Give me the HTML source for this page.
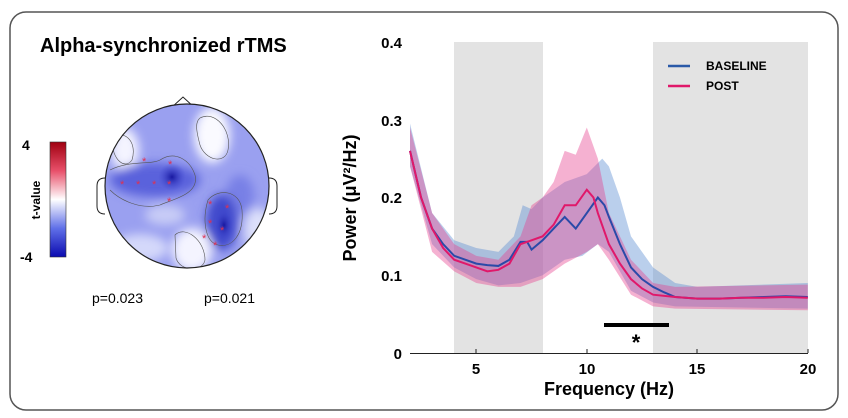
<!DOCTYPE html>
<html><head><meta charset="utf-8"><style>
body{margin:0;background:#fff;}
svg{display:block;font-family:"Liberation Sans",Arial,sans-serif;}
</style></head><body>
<svg id="s" width="848" height="418" viewBox="0 0 848 418">
<defs>
<linearGradient id="cb" x1="0" y1="0" x2="0" y2="1">
<stop offset="0" stop-color="#a00010"/><stop offset="0.25" stop-color="#e8506a"/><stop offset="0.5" stop-color="#ffffff"/><stop offset="0.75" stop-color="#6070e8"/><stop offset="1" stop-color="#0a0ab0"/>
</linearGradient>
<radialGradient id="b1" cx="0.5" cy="0.5" r="0.5"><stop offset="0" stop-color="#1818a0"/><stop offset="1" stop-color="#4048d0" stop-opacity="0"/></radialGradient>
<filter id="bl"><feGaussianBlur stdDeviation="5"/></filter>
<clipPath id="hc"><circle cx="187" cy="186" r="82"/></clipPath>
</defs>
<rect x="10" y="12" width="828" height="398" rx="16" fill="#fff" stroke="#555" stroke-width="1.5"/>
<text x="40" y="52" font-size="20" font-weight="bold">Alpha-synchronized rTMS</text>
<rect x="50" y="142" width="16" height="115" fill="url(#cb)" stroke="#333" stroke-width="0.6"/>
<text x="22" y="150" font-size="14" font-weight="bold">4</text>
<text x="20" y="262" font-size="14" font-weight="bold">-4</text>
<text transform="translate(40,200) rotate(-90)" font-size="12" font-weight="bold" text-anchor="middle">t-value</text>
<polygon points="171,108 183,97 195,108" fill="#fff" stroke="#222" stroke-width="1"/>
<path d="M105,178 q-8,0 -8,8 v20 q0,8 8,8" fill="#fff" stroke="#222" stroke-width="1"/>
<path d="M269,178 q8,0 8,8 v20 q0,8 -8,8" fill="#fff" stroke="#222" stroke-width="1"/>
<g clip-path="url(#hc)">
<rect x="100" y="100" width="180" height="180" fill="#9aa0f0"/>
<g filter="url(#bl)">
<ellipse cx="125" cy="150" rx="14" ry="22" fill="#f4f4ff"/>
<ellipse cx="212" cy="135" rx="18" ry="28" fill="#fafaff"/>
<ellipse cx="192" cy="250" rx="20" ry="22" fill="#f4f4ff"/>
<ellipse cx="140" cy="248" rx="28" ry="14" fill="#d4d8fa"/>
<ellipse cx="258" cy="230" rx="14" ry="22" fill="#dde0fa"/>
<ellipse cx="165" cy="215" rx="20" ry="10" fill="#c8ccf6"/>
<ellipse cx="155" cy="180" rx="45" ry="17" fill="#5a62dc"/>
<ellipse cx="240" cy="195" rx="14" ry="20" fill="#7880e6"/>
<ellipse cx="222" cy="222" rx="16" ry="28" fill="#4048cc"/>
</g>
<ellipse cx="172" cy="177" rx="14" ry="14" fill="url(#b1)"/>
<ellipse cx="224" cy="225" rx="9" ry="15" fill="url(#b1)"/>
<g fill="none" stroke="#555" stroke-width="0.6">
<path d="M110,170 C130,160 150,165 160,160 C175,150 190,160 195,175 C200,195 170,200 160,205 C140,210 120,200 110,190"/>
<path d="M200,118 C215,110 232,130 228,150 C225,165 205,160 200,145 C196,130 195,122 200,118Z"/>
<path d="M208,200 C218,188 240,190 242,210 C244,235 232,248 218,245 C205,242 202,220 208,200Z"/>
<path d="M175,235 C185,225 205,240 205,260 C203,272 180,272 176,258Z"/>
<path d="M112,140 C122,128 138,140 132,160 C125,170 112,160 112,140Z"/>
</g>
</g>
<circle cx="187" cy="186" r="82" fill="none" stroke="#222" stroke-width="1.2"/>
<g fill="#e03050" font-size="11"><text x="120" y="188">*</text><text x="136" y="188">*</text><text x="152" y="188">*</text><text x="167" y="188">*</text><text x="167" y="205">*</text><text x="142" y="165">*</text><text x="168" y="168">*</text><text x="208" y="208">*</text><text x="225" y="212">*</text><text x="208" y="227">*</text><text x="220" y="234">*</text><text x="202" y="242">*</text><text x="213" y="249">*</text></g>
<text x="92" y="303" font-size="14">p=0.023</text>
<text x="204" y="303" font-size="14">p=0.021</text>
<rect x="454" y="42" width="89" height="311" fill="#e3e3e3"/>
<rect x="653" y="42" width="155" height="311" fill="#e3e3e3"/>
<g id="plot"></g>
<line x1="410" y1="353.5" x2="808" y2="353.5" stroke="#222" stroke-width="1"/>
<g stroke="#222"><line x1="476" y1="353" x2="476" y2="349"/><line x1="587" y1="353" x2="587" y2="349"/><line x1="697" y1="353" x2="697" y2="349"/><line x1="808" y1="353" x2="808" y2="349"/></g>
<g font-size="15" font-weight="bold" text-anchor="end"><text x="402" y="48">0.4</text><text x="402" y="126">0.3</text><text x="402" y="203">0.2</text><text x="402" y="281">0.1</text><text x="402" y="359">0</text></g>
<g font-size="15" font-weight="bold" text-anchor="middle"><text x="476" y="374">5</text><text x="587" y="374">10</text><text x="697" y="374">15</text><text x="808" y="374">20</text></g>
<text x="609" y="395" font-size="18" font-weight="bold" text-anchor="middle">Frequency (Hz)</text>
<text transform="translate(356,198) rotate(-90)" font-size="18" font-weight="bold" text-anchor="middle">Power (μV²/Hz)</text>
<line x1="604" y1="325" x2="669" y2="325" stroke="#000" stroke-width="4"/>
<text x="636" y="350" font-size="22" font-weight="bold" text-anchor="middle">*</text>
<line x1="668" y1="66" x2="690" y2="66" stroke="#2a5aa8" stroke-width="2.5"/>
<line x1="668" y1="86" x2="690" y2="86" stroke="#e0186a" stroke-width="2.5"/>
<text x="706" y="70" font-size="12" font-weight="bold">BASELINE</text>
<text x="706" y="90" font-size="12" font-weight="bold">POST</text>
</svg>
<script>
function X(f){return 410+22.1*(f-2);}function Y(p){return 353-777.5*p;}
var B=[[2,.26],[2.5,.2],[3,.16],[3.5,.14],[4,.125],[4.5,.12],[5,.115],[5.5,.113],[6,.112],[6.5,.12],[7,.143],[7.3,.143],[7.5,.133],[8,.145],[8.5,.16],[9,.175],[9.5,.16],[10,.18],[10.5,.2],[10.8,.19],[11,.175],[11.5,.14],[12,.11],[12.5,.095],[13,.085],[13.5,.078],[14,.072],[15,.07],[16,.07],[17,.071],[18,.072],[19,.073],[20,.072]];
var P=[[2,.26],[2.5,.2],[3,.16],[3.5,.135],[4,.12],[4.5,.115],[5,.11],[5.5,.105],[6,.107],[6.5,.115],[7,.14],[7.5,.145],[8,.15],[8.5,.165],[9,.19],[9.5,.19],[10,.21],[10.3,.2],[10.5,.18],[11,.14],[11.5,.115],[12,.095],[12.5,.083],[13,.075],[14,.072],[15,.07],[16,.07],[17,.071],[18,.071],[19,.072],[20,.071]];
var BU=[[2,.295],[3,.18],[4,.145],[5,.135],[6,.13],[6.7,.15],[7.1,.19],[7.5,.185],[8,.2],[9,.22],[10,.23],[10.7,.25],[11,.24],[11.5,.2],[12,.15],[13,.11],[14,.09],[15,.085],[20,.09]];
var BL=[[2,.24],[3,.14],[4,.11],[5,.095],[6,.087],[7,.09],[8,.1],[9,.12],[9.8,.125],[10.5,.14],[11,.13],[12,.08],[13,.065],[14,.06],[20,.057]];
var PU=[[2,.29],[3,.18],[4,.14],[5,.125],[6,.12],[7,.15],[7.5,.19],[8,.2],[8.5,.22],[9,.26],[9.5,.255],[10,.29],[10.5,.25],[11,.18],[12,.12],[13,.09],[14,.085],[20,.088]];
var PL=[[2,.24],[3,.13],[4,.105],[5,.09],[6,.085],[7,.085],[8,.095],[9,.115],[10,.13],[10.5,.14],[11,.12],[12,.075],[13,.06],[14,.057],[20,.055]];
function pts(d){return d.map(function(p){return X(p[0])+','+Y(p[1]);});}
function band(u,l,c){return '<polygon points="'+pts(u).join(' ')+' '+pts(l).reverse().join(' ')+'" fill="'+c+'"/>';}
function line(d,c){return '<polyline points="'+pts(d).join(' ')+'" fill="none" stroke="'+c+'" stroke-width="2"/>';}
document.getElementById('plot').innerHTML=band(BU,BL,'rgba(90,140,210,0.42)')+band(PU,PL,'rgba(230,60,140,0.4)')+line(B,'#2a4aa8')+line(P,'#e0186a');
</script>
</body></html>
